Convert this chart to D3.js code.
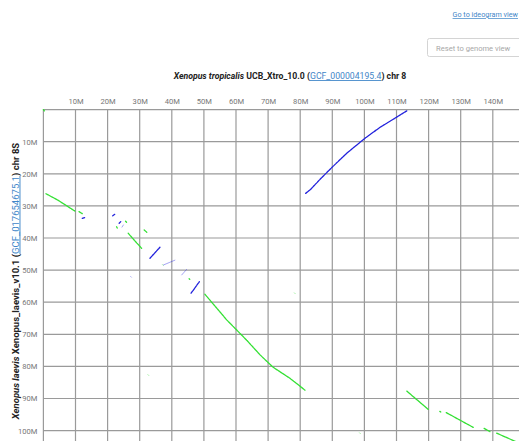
<!DOCTYPE html>
<html><head><meta charset="utf-8">
<script src="https://cdn.jsdelivr.net/npm/d3@7"></script>
<style>
body{margin:0;background:#fff;font-family:Roboto,"Noto Sans",sans-serif;}
svg{display:block}
</style></head><body>
<svg id="c" width="519" height="441"></svg>
<script>
// Ticks (in Mb)
const xTicks = [10,20,30,40,50,60,70,80,90,100,110,120,130,140];
const yTicks = [10,20,30,40,50,60,70,80,90,100];
const xGrid = [0,10,20,30,40,50,60,70,80,90,100,110,120,130,140,150];
const yGrid = [0,10,20,30,40,50,60,70,80,90,100,110];

// Alignment hits: [x (X. tropicalis chr8, Mb), y (X. laevis chr8S, Mb)]
const forwardHits = [
  [[0.0,0.0],[0.3,0.4]],
  [[0.8,26.2],[4.5,28.2],[9.8,31.6]],
  [[11.1,31.8],[12.1,32.4]],
  [[22.8,36.5],[23.0,36.9]],
  [[25.6,34.8],[25.9,35.1]],
  [[26.4,38.5],[28.5,40.9],[30.6,43.2]],
  [[31.4,37.5],[32.2,38.2]],
  [[45.4,52.7],[45.6,52.9]],
  [[50.3,57.5],[57.1,65.5],[63.3,71.8],[67.5,76.4],[71.6,80.3],[76.8,83.7],[81.5,87.4]],
  [[113.2,87.7],[116.5,90.5],[119.9,93.4]],
  [[123.5,94.0],[123.8,94.2]],
  [[125.5,94.4],[133.9,99.0]],
  [[137.3,99.3],[139.1,100.3]],
  [[141.2,100.8],[148.2,103.9]]
];
const forwardWeak = [
  [[37.1,48.3],[37.3,48.5]],
  [[32.6,82.6],[32.8,82.8]],
  [[78.2,57.1],[78.4,57.3]],
  [[98.5,100.7],[98.7,100.9]]
];
const reverseHits = [
  [[12.1,33.9],[13.0,33.6]],
  [[21.6,33.1],[22.4,32.5]],
  [[23.6,35.4],[24.1,34.9]],
  [[33.2,46.3],[36.3,42.9]],
  [[46.0,57.2],[48.6,53.6]],
  [[81.7,26.1],[83.1,25.0],[86.2,21.7],[90.1,17.8],[94.5,13.6],[100.2,8.9],[104.9,5.5],[109.0,3.0],[113.2,0.4]]
];
const reverseWeak = [
  [[37.4,48.4],[41.0,46.9]],
  [[43.1,51.5],[44.6,49.8]],
  [[27.2,52.0],[27.4,52.2]],
  [[24.5,36.6],[25.0,35.8]]
];

const svg = d3.select("#c");
const x = d3.scaleLinear().domain([0,150]).range([43.4, 43.4+481.5]);
const y = d3.scaleLinear().domain([0,110]).range([109.6, 109.6+353.1]);

// header link & button
svg.append("text").attr("x",518).attr("y",17).attr("text-anchor","end")
  .attr("font-size",7.2).attr("fill","#3f86c8").attr("text-decoration","underline")
  .text("Go to ideogram view");
svg.append("rect").attr("x",427.5).attr("y",38.5).attr("width",100).attr("height",18)
  .attr("rx",2).attr("fill","#fff").attr("stroke","#d4d4d4");
svg.append("text").attr("x",436).attr("y",50.5).attr("font-size",7.6).attr("fill","#a8a8a8")
  .text("Reset to genome view");

// title
const title = svg.append("text").attr("x",290).attr("y",79).attr("text-anchor","middle")
  .attr("font-size",8.7).attr("font-weight","bold").attr("fill","#222");
title.append("tspan").attr("font-style","italic").text("Xenopus tropicalis");
title.append("tspan").text(" UCB_Xtro_10.0 (");
title.append("tspan").attr("font-weight","normal").attr("fill","#3f86c8").attr("text-decoration","underline").text("GCF_000004195.4");
title.append("tspan").text(") chr 8");

// y axis title
const yt = svg.append("text").attr("transform","translate(18.5,281) rotate(-90)")
  .attr("text-anchor","middle").attr("font-size",9.5).attr("font-weight","bold").attr("fill","#222");
yt.append("tspan").attr("font-style","italic").text("Xenopus laevis");
yt.append("tspan").text(" Xenopus_laevis_v10.1 (");
yt.append("tspan").attr("font-weight","normal").attr("fill","#3f86c8").attr("text-decoration","underline").text("GCF_017654675.1");
yt.append("tspan").text(") chr 8S");

// grid
const g = svg.append("g");
g.selectAll("line.vx").data(xGrid).join("line")
  .attr("x1",d=>x(d)).attr("x2",d=>x(d)).attr("y1",y(0)).attr("y2",441)
  .attr("stroke","#9a9a9a").attr("stroke-width",1.2);
g.selectAll("line.hy").data(yGrid).join("line")
  .attr("y1",d=>y(d)).attr("y2",d=>y(d)).attr("x1",x(0)).attr("x2",519)
  .attr("stroke","#9a9a9a").attr("stroke-width",1.2);

// axes (labels only)
const xAxis = d3.axisTop(x).tickValues(xTicks).tickFormat(d=>d+"M").tickSize(0).tickPadding(0);
const ax = svg.append("g").attr("transform",`translate(0,${y(0)-6})`).call(xAxis);
const yAxis = d3.axisLeft(y).tickValues(yTicks).tickFormat(d=>d+"M").tickSize(0).tickPadding(0);
const ay = svg.append("g").attr("transform",`translate(${x(0)-6},0)`).call(yAxis);
[ax,ay].forEach(a=>{
  a.select(".domain").remove();
  a.selectAll("text").attr("font-family","Roboto,sans-serif").attr("font-size",7.6).attr("fill","#777");
});

// hits
const line = d3.line().x(d=>x(d[0])).y(d=>y(d[1]));
const hg = svg.append("g").attr("fill","none").attr("stroke-linecap","round");
function draw(data, color, w, op){
  hg.append("g").selectAll("path").data(data).join("path")
    .attr("d",line).attr("stroke",color).attr("stroke-width",w).attr("opacity",op)
    .attr("stroke-dasharray","2.5,0.8");
}
draw(forwardWeak,"#33e033",1.0,0.55);
draw(reverseWeak,"#3434e4",1.0,0.45);
draw(forwardHits,"#33e033",1.3,1);
draw(reverseHits,"#2222dc",1.3,1);
</script>
</body></html>
